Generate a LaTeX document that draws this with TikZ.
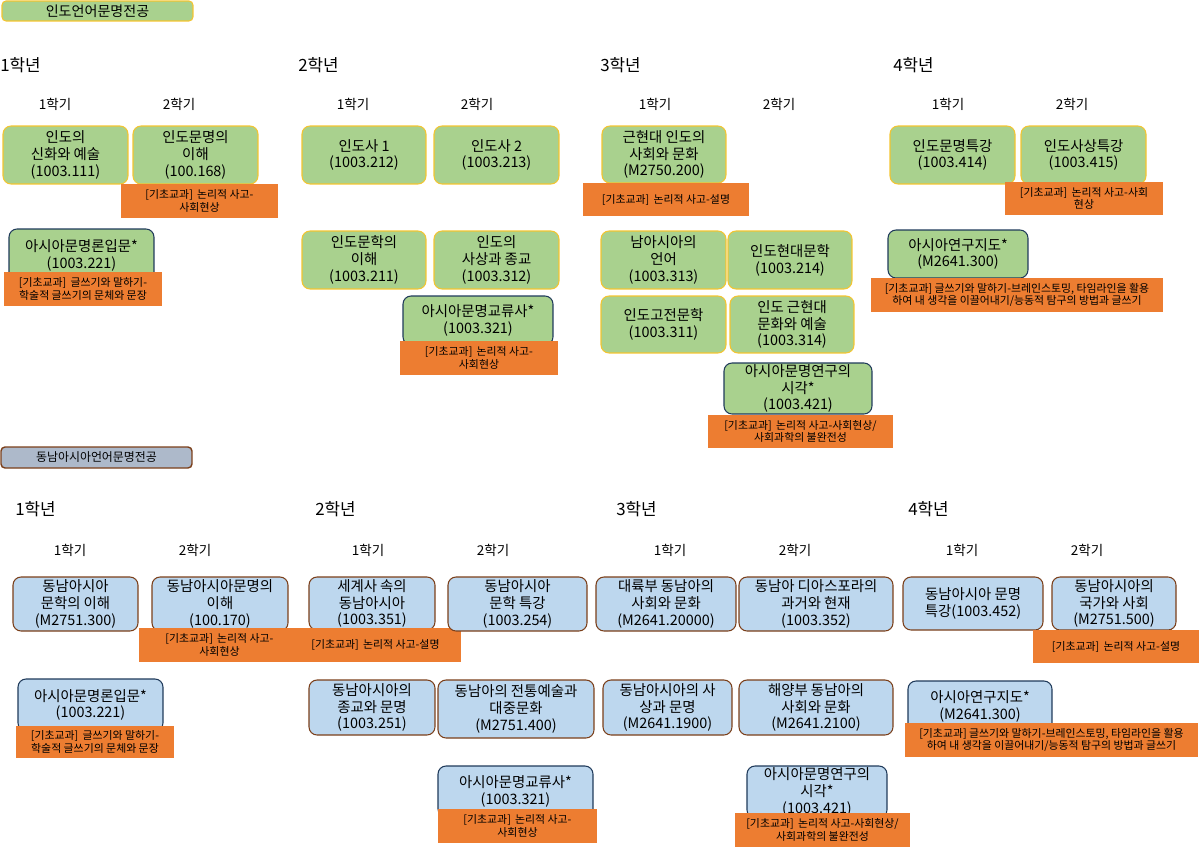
\documentclass[tikz,border=0pt]{standalone}
\usepackage{fontspec}
\setmainfont{Noto Sans CJK KR}
\usepackage{xcolor}
\usepackage{tikz}
\definecolor{G1}{HTML}{A9D18E}
\definecolor{Y1}{HTML}{F4C430}
\definecolor{B1}{HTML}{BDD7EE}
\definecolor{R1}{HTML}{7B3F1A}
\definecolor{N1}{HTML}{1F3A5A}
\definecolor{H2}{HTML}{ADB9CA}
\definecolor{O1}{HTML}{ED7D31}
\tikzset{%
  yr/.style={anchor=west, inner sep=0pt, font=\fontsize{9.6}{11}\selectfont},%
  sem/.style={inner sep=0pt, font=\fontsize{7.7}{9}\selectfont},%
  crs/.style={rounded corners=0.16cm, line width=0.6pt, inner sep=0pt, align=center, text centered, font=\fontsize{8.2}{9.6}\selectfont},%
  indo/.style={crs, draw=Y1, fill=G1},%
  sea/.style={crs, draw=R1, fill=B1},%
  star/.style={draw=N1},%
  note/.style={fill=O1, inner sep=0pt, align=center, text centered, font=\fontsize{6.2}{7.2}\selectfont},%
}

\begin{document}
\begin{tikzpicture}[x=0.02cm, y=-0.02cm]%
\useasboundingbox (0,0) rectangle (1200,848);%
% 인도언어문명전공
\node[draw=Y1, fill=G1, rounded corners=0.08cm, line width=0.6pt, minimum width=3.82cm, minimum height=0.4cm, inner sep=0pt, font=\fontsize{8}{9}\selectfont] (hdrI) at (97.5,11) {인도언어문명전공};%
\node[yr] (yI1) at (0,65) {1학년};%
\node[yr] (yI2) at (298,65) {2학년};%
\node[yr] (yI3) at (600,65) {3학년};%
\node[yr] (yI4) at (893,65) {4학년};%
\node[sem] (sI1a) at (55,104) {1학기};%
\node[sem] (sI1b) at (179,104) {2학기};%
\node[sem] (sI2a) at (353,104) {1학기};%
\node[sem] (sI2b) at (477,104) {2학기};%
\node[sem] (sI3a) at (655,104) {1학기};%
\node[sem] (sI3b) at (779,104) {2학기};%
\node[sem] (sI4a) at (948,104) {1학기};%
\node[sem] (sI4b) at (1072,104) {2학기};%
% 1학년
\node[indo, minimum width=2.5cm, minimum height=1.16cm] (i111) at (65.5,155) {인도의\\신화와 예술\\(1003.111)};%
\node[indo, minimum width=2.5cm, minimum height=1.16cm] (i168) at (195.5,155) {인도문명의\\이해\\(100.168)};%
\node[note, minimum width=3.14cm, minimum height=0.68cm] (n168) at (199.5,201) {[기초교과]\, 논리적 사고-\\사회현상};%
\node[indo, star, minimum width=2.9cm, minimum height=1.06cm] (i221) at (81.5,255.5) {아시아문명론입문*\\(1003.221)};%
\node[note, minimum width=3.16cm, minimum height=0.68cm] (n221) at (83,289) {[기초교과]\, 글쓰기와 말하기-\\학술적 글쓰기의 문체와 문장};%
% 2학년
\node[indo, minimum width=2.48cm, minimum height=1.16cm] (i212) at (364,155) {인도사 1\\(1003.212)};%
\node[indo, minimum width=2.5cm, minimum height=1.16cm] (i213) at (496.5,155) {인도사 2\\(1003.213)};%
\node[indo, minimum width=2.48cm, minimum height=1.16cm] (i211) at (364,260) {인도문학의\\이해\\(1003.211)};%
\node[indo, minimum width=2.5cm, minimum height=1.16cm] (i312) at (496.5,260) {인도의\\사상과 종교\\(1003.312)};%
\node[indo, star, minimum width=3cm, minimum height=0.98cm] (i321) at (478,320.5) {아시아문명교류사*\\(1003.321)};%
\node[note, minimum width=3.16cm, minimum height=0.68cm] (n321) at (479,358) {[기초교과]\, 논리적 사고-\\사회현상};%
% 3학년
\node[indo, minimum width=2.48cm, minimum height=1.14cm] (i200) at (664,154.5) {근현대 인도의\\사회와 문화\\(M2750.200)};%
\node[note, minimum width=3.32cm, minimum height=0.66cm] (n200) at (666,199.5) {[기초교과]\, 논리적 사고-설명};%
\node[indo, minimum width=2.5cm, minimum height=1.16cm] (i313) at (663.5,260) {남아시아의\\언어\\(1003.313)};%
\node[indo, minimum width=2.48cm, minimum height=1.16cm] (i214) at (790,260) {인도현대문학\\(1003.214)};%
\node[indo, minimum width=2.5cm, minimum height=1.14cm] (i311) at (663.5,324.5) {인도고전문학\\(1003.311)};%
\node[indo, minimum width=2.48cm, minimum height=1.14cm] (i314) at (792,324.5) {인도 근현대\\문화와 예술\\(1003.314)};%
\node[indo, star, minimum width=2.96cm, minimum height=1.02cm] (i421) at (798,388.5) {아시아문명연구의\\시각*\\(1003.421)};%
\node[note, minimum width=3.7cm, minimum height=0.66cm] (n421) at (800.5,431.5) {[기초교과]\, 논리적 사고-사회현상/\\사회과학의 불완전성};%
% 4학년
\node[indo, minimum width=2.5cm, minimum height=1.16cm] (i414) at (952.5,155) {인도문명특강\\(1003.414)};%
\node[indo, minimum width=2.5cm, minimum height=1.16cm] (i415) at (1083.5,155) {인도사상특강\\(1003.415)};%
\node[note, minimum width=3.16cm, minimum height=0.66cm] (n415) at (1084,198.5) {[기초교과]\, 논리적 사고-사회\\현상};%
\node[indo, star, minimum width=2.8cm, minimum height=0.96cm] (i300) at (958,254) {아시아연구지도*\\(M2641.300)};%
\node[note, minimum width=5.84cm, minimum height=0.68cm] (n300) at (1017,295) {[기초교과] 글쓰기와 말하기-브레인스토밍, 타임라인을 활용\\하여 내 생각을 이끌어내기/능동적 탐구의 방법과 글쓰기};%
% 동남아시아언어문명전공
\node[draw=R1, fill=H2, rounded corners=0.08cm, line width=0.8pt, minimum width=3.82cm, minimum height=0.42cm, inner sep=0pt, font=\fontsize{6.8}{8}\selectfont] (hdrS) at (96.5,457.5) {동남아시아언어문명전공};%
\node[yr] (yS1) at (15,509) {1학년};%
\node[yr] (yS2) at (315,509) {2학년};%
\node[yr] (yS3) at (616,509) {3학년};%
\node[yr] (yS4) at (908,509) {4학년};%
\node[sem] (sS1a) at (70,550) {1학기};%
\node[sem] (sS1b) at (195,550) {2학기};%
\node[sem] (sS2a) at (368,550) {1학기};%
\node[sem] (sS2b) at (493,550) {2학기};%
\node[sem] (sS3a) at (670,550) {1학기};%
\node[sem] (sS3b) at (795,550) {2학기};%
\node[sem] (sS4a) at (962,550) {1학기};%
\node[sem] (sS4b) at (1087,550) {2학기};%
% 1학년
\node[sea, minimum width=2.5cm, minimum height=1.08cm] (s300) at (75.5,604) {동남아시아\\문학의 이해\\(M2751.300)};%
\node[sea, minimum width=2.72cm, minimum height=1.08cm] (s170) at (220,604) {동남아시아문명의\\이해\\(100.170)};%
\node[note, minimum width=3.22cm, minimum height=0.68cm] (n170) at (219.5,645) {[기초교과]\, 논리적 사고-\\사회현상};%
\node[sea, star, minimum width=2.9cm, minimum height=1.04cm] (s221) at (90.5,705) {아시아문명론입문*\\(1003.221)};%
\node[note, minimum width=3.16cm, minimum height=0.64cm] (m221) at (95,742) {[기초교과]\, 글쓰기와 말하기-\\학술적 글쓰기의 문체와 문장};%
% 2학년
\node[sea, minimum width=2.52cm, minimum height=1.06cm] (s351) at (372,603.5) {세계사 속의\\동남아시아\\(1003.351)};%
\node[note, minimum width=3.42cm, minimum height=0.68cm] (n351) at (375.5,645) {[기초교과]\, 논리적 사고-설명};%
\node[sea, minimum width=2.78cm, minimum height=1.08cm] (s254) at (517.5,604) {동남아시아\\문학 특강\\(1003.254)};%
\node[sea, minimum width=2.52cm, minimum height=1.1cm] (s251) at (372,707.5) {동남아시아의\\종교와 문명\\(1003.251)};%
\node[sea, minimum width=3.12cm, minimum height=1.16cm] (s400) at (516,709) {동남아의 전통예술과\\대중문화\\(M2751.400)};%
\node[sea, star, minimum width=3.1cm, minimum height=1.02cm] (s321) at (515.5,791.5) {아시아문명교류사*\\(1003.321)};%
\node[note, minimum width=3.18cm, minimum height=0.68cm] (m321) at (517.5,826) {[기초교과]\, 논리적 사고-\\사회현상};%
% 3학년
\node[sea, minimum width=2.8cm, minimum height=1.08cm] (s20000) at (666,604) {대륙부 동남아의\\사회와 문화\\(M2641.20000)};%
\node[sea, minimum width=3.08cm, minimum height=1.08cm] (s352) at (816,604) {동남아 디아스포라의\\과거와 현재\\(1003.352)};%
\node[sea, minimum width=2.58cm, minimum height=1.1cm] (s1900) at (667.5,707.5) {동남아시아의 사\\상과 문명\\(M2641.1900)};%
\node[sea, minimum width=3.08cm, minimum height=1.1cm] (s2100) at (816,707.5) {해양부 동남아의\\사회와 문화\\(M2641.2100)};%
\node[sea, star, minimum width=2.8cm, minimum height=1.04cm] (s421) at (817,792) {아시아문명연구의\\시각*\\(1003.421)};%
\node[note, minimum width=3.5cm, minimum height=0.68cm] (m421) at (822.5,830) {[기초교과]\, 논리적 사고-사회현상/\\사회과학의 불완전성};%
% 4학년
\node[sea, minimum width=2.8cm, minimum height=1.06cm] (s452) at (973,603.5) {동남아시아 문명\\특강(1003.452)};%
\node[sea, minimum width=2.48cm, minimum height=1.06cm] (s500) at (1114,603.5) {동남아시아의\\국가와 사회\\(M2751.500)};%
\node[note, minimum width=3.32cm, minimum height=0.66cm] (n500) at (1116,646.5) {[기초교과]\, 논리적 사고-설명};%
\node[sea, star, minimum width=2.88cm, minimum height=1.02cm] (s2641) at (980,706.5) {아시아연구지도*\\(M2641.300)};%
\node[note, minimum width=5.86cm, minimum height=0.68cm] (m300) at (1051.5,740) {[기초교과] 글쓰기와 말하기-브레인스토밍, 타임라인을 활용\\하여 내 생각을 이끌어내기/능동적 탐구의 방법과 글쓰기};%
\end{tikzpicture}
\end{document}
